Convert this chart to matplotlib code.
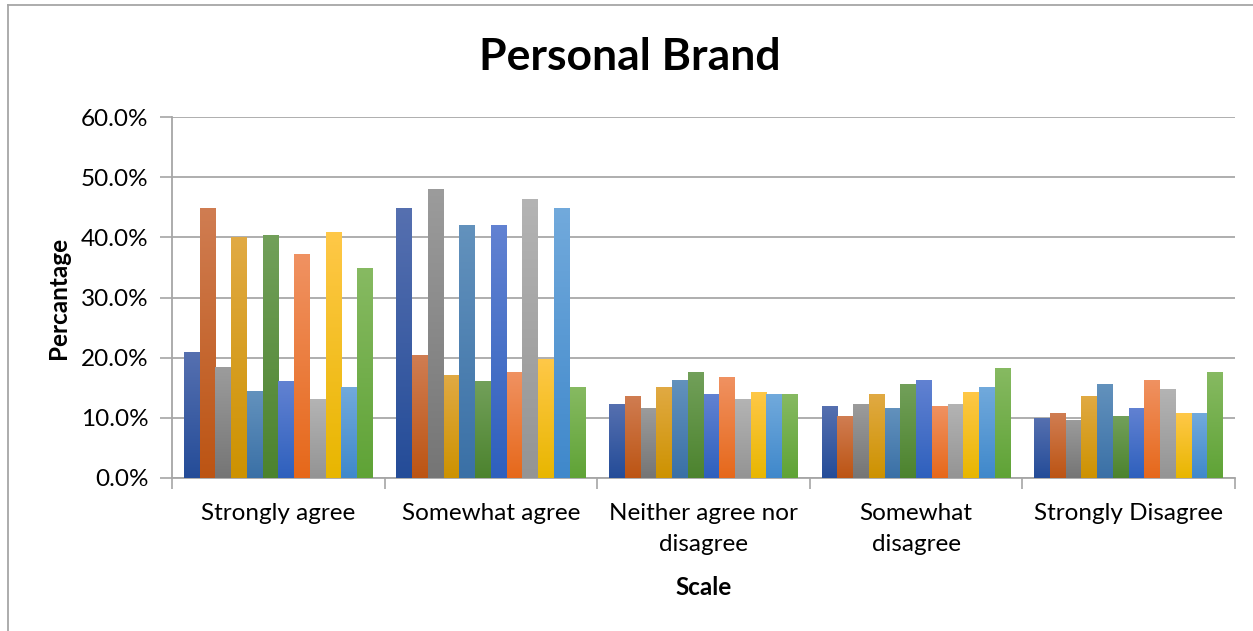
import numpy as np
import matplotlib.pyplot as plt
from matplotlib.colors import LinearSegmentedColormap
from matplotlib.lines import Line2D

plt.rcParams['font.family'] = ['Lato', 'DejaVu Sans']

categorias = ["Strongly agree", "Somewhat agree", "Neither agree nor\ndisagree",
              "Somewhat\ndisagree", "Strongly Disagree"]

# 12 series, un valor por categoria (porcentajes)
series = [
    [20.9, 44.9, 12.3, 12.0, 10.0],
    [44.9, 20.4, 13.7, 10.3, 10.8],
    [18.4, 48.1, 11.7, 12.3, 9.7],
    [40.0, 17.2, 15.2, 14.0, 13.7],
    [14.4, 42.1, 16.3, 11.7, 15.7],
    [40.4, 16.1, 17.7, 15.7, 10.3],
    [16.1, 42.1, 14.0, 16.3, 11.7],
    [37.2, 17.7, 16.8, 12.0, 16.3],
    [13.2, 46.4, 13.2, 12.3, 14.8],
    [40.9, 19.7, 14.3, 14.3, 10.8],
    [15.2, 44.9, 14.0, 15.2, 10.8],
    [34.9, 15.2, 14.0, 18.3, 17.7],
]

# colores (arriba, abajo) del degradado de cada serie
colores = [
    ("#5670b0", "#244c98"),
    ("#d07d52", "#bc5413"),
    ("#9c9c9c", "#757575"),
    ("#e1aa44", "#cd9200"),
    ("#6392bd", "#3a70a6"),
    ("#72a05a", "#4c832e"),
    ("#6282d2", "#2e60bd"),
    ("#f09262", "#e6681a"),
    ("#b4b4b4", "#949494"),
    ("#ffc848", "#e8b600"),
    ("#72aadc", "#3f88cb"),
    ("#87ba62", "#5fa336"),
]

fig = plt.figure(figsize=(12.53, 6.31), dpi=100)
ax = fig.add_axes([172 / 1253, 1 - 478 / 631, 1063 / 1253, 361 / 631])

n = len(series)
ancho = 1 / (n + 1.5)
x = np.arange(len(categorias))

for k, (vals, (c_top, c_bot)) in enumerate(zip(series, colores)):
    offs = (k - (n - 1) / 2) * ancho
    barras = ax.bar(x + offs, vals, width=ancho, color="none", zorder=3)
    cmap = LinearSegmentedColormap.from_list("g%d" % k, [c_bot, c_top])
    grad = np.linspace(0, 1, 256).reshape(-1, 1)
    for b in barras:
        x0, y0 = b.get_x(), b.get_y()
        w, h = b.get_width(), b.get_height()
        im = ax.imshow(grad, cmap=cmap, origin="lower", aspect="auto",
                       extent=[x0, x0 + w, y0, y0 + h], zorder=3)
        im.set_clip_path(b)

ax.set_xlim(-0.5, len(categorias) - 0.5)
ax.set_ylim(0, 60)
ax.set_yticks(np.arange(0, 61, 10))
ax.set_yticklabels(["%.1f%%" % v for v in np.arange(0, 61, 10)], fontsize=17.5)
ax.set_xticks(x)
ax.set_xticklabels(categorias, fontsize=17.5, linespacing=1.6)
ax.set_xticks(np.arange(-0.5, len(categorias)), minor=True)
ax.tick_params(axis="x", which="major", length=0, pad=18)
ax.tick_params(axis="x", which="minor", length=8, color="#a6a6a6", width=1.2)
ax.tick_params(axis="y", length=9, color="#a6a6a6", width=1.2, pad=8)
ax.grid(axis="y", color="#a8a8a8", linewidth=1.3, zorder=0)
ax.set_axisbelow(True)
for s in ["top", "right"]:
    ax.spines[s].set_visible(False)
for s in ["left", "bottom"]:
    ax.spines[s].set_color("#a6a6a6")
    ax.spines[s].set_linewidth(1.3)

ax.set_ylabel("Percantage", fontsize=17.5, fontweight="bold", labelpad=8)
ax.set_xlabel("Scale", fontsize=17.5, fontweight="bold", labelpad=15)
fig.text(0.503, 1 - 57 / 631, "Personal Brand", fontsize=32, fontweight="bold",
         ha="center", va="center")

# marco del grafico
fig.add_artist(Line2D([8 / 1253, 8 / 1253], [0, 1 - 5 / 631], color="#a6a6a6", lw=1.3))
fig.add_artist(Line2D([8 / 1253, 1], [1 - 5 / 631, 1 - 5 / 631], color="#a6a6a6", lw=1.3))

fig.savefig("out.png", dpi=100)
